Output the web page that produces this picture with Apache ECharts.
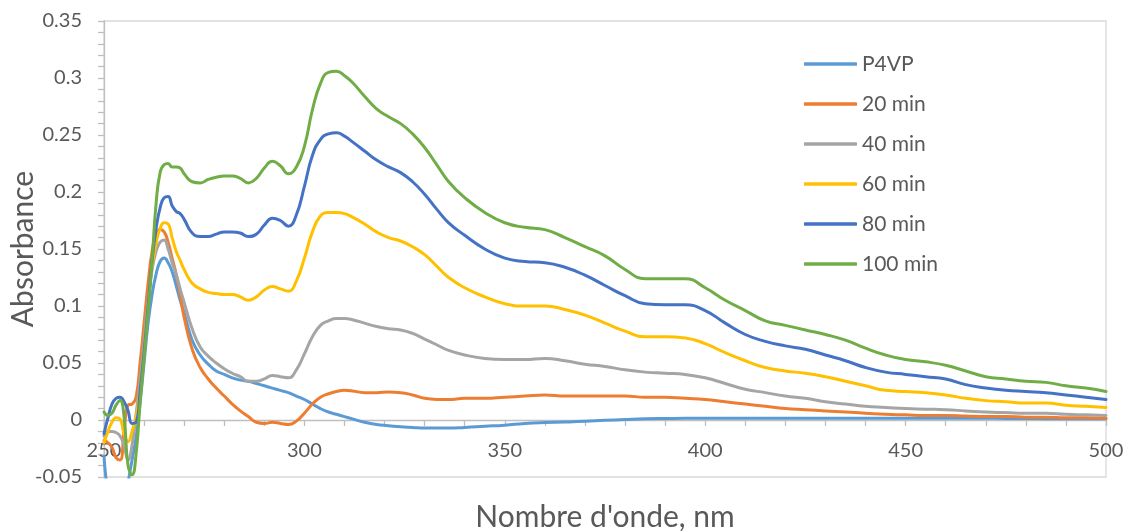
<!DOCTYPE html>
<html>
<head>
<meta charset="utf-8">
<script src="https://cdn.jsdelivr.net/npm/echarts@6/dist/echarts.min.js"></script>
<style>
html,body{margin:0;padding:0;background:#fff;}
#chart{width:1126px;height:531px;}
</style>
</head>
<body>
<div id="chart"></div>
<script>
const wavelengths = [250,251,252,253,254,255,256,257,258,259,260,261,262,263,264,265,266,267,268,269,270,272,274,276,278,280,282,284,286,288,290,292,294,296,298,300,302,304,306,308,310,312,315,318,321,324,327,330,333,336,340,345,350,355,360,365,370,375,380,385,390,395,400,405,410,415,420,425,430,435,440,445,450,455,460,465,470,475,480,485,490,495,500];

const seriesNames = ['P4VP','20 min','40 min','60 min','80 min','100 min'];

const p4vp = [-0.032,-0.065,-0.08,-0.085,-0.085,-0.075,-0.055,-0.035,-0.015,0.015,0.05,0.085,0.11,0.128,0.139,0.142,0.138,0.130,0.118,0.105,0.094,0.070,0.057,0.049,0.043,0.040,0.037,0.035,0.034,0.032,0.030,0.028,0.026,0.024,0.021,0.018,0.014,0.010,0.007,0.005,0.003,0.001,-0.002,-0.004,-0.005,-0.006,-0.0065,-0.007,-0.007,-0.007,-0.0065,-0.0055,-0.0045,-0.003,-0.0022,-0.0018,-0.0012,-0.0003,0.0004,0.001,0.0013,0.0015,0.0015,0.0015,0.0015,0.0015,0.0015,0.0015,0.0015,0.0015,0.0015,0.0015,0.0015,0.0015,0.0015,0.0015,0.0015,0.0014,0.0013,0.0012,0.0012,0.0011,0.001];

const min20 = [-0.018,-0.020,-0.024,-0.033,-0.035,-0.010,0.013,0.014,0.020,0.05,0.085,0.12,0.148,0.163,0.167,0.165,0.156,0.142,0.128,0.110,0.090,0.062,0.046,0.036,0.028,0.021,0.014,0.008,0.003,-0.002,-0.003,-0.002,-0.003,-0.004,-0.001,0.006,0.014,0.020,0.023,0.025,0.026,0.0255,0.024,0.024,0.0245,0.024,0.022,0.019,0.018,0.018,0.019,0.019,0.020,0.021,0.022,0.021,0.021,0.021,0.021,0.020,0.020,0.019,0.018,0.016,0.014,0.012,0.010,0.009,0.008,0.007,0.006,0.005,0.0045,0.004,0.004,0.0035,0.003,0.003,0.0025,0.0025,0.002,0.002,0.0015];

const min40 = [-0.014,-0.010,-0.010,-0.011,-0.014,-0.022,-0.035,-0.022,0.005,0.035,0.07,0.105,0.132,0.148,0.156,0.158,0.150,0.138,0.128,0.115,0.103,0.080,0.064,0.056,0.050,0.045,0.041,0.038,0.034,0.034,0.036,0.039,0.038,0.037,0.044,0.058,0.073,0.083,0.087,0.089,0.089,0.088,0.085,0.082,0.080,0.079,0.076,0.071,0.066,0.061,0.057,0.054,0.053,0.053,0.054,0.052,0.049,0.047,0.044,0.042,0.041,0.040,0.037,0.032,0.027,0.024,0.021,0.019,0.016,0.014,0.012,0.011,0.010,0.0095,0.009,0.008,0.007,0.0065,0.006,0.006,0.005,0.0045,0.004];

const min60 = [-0.020,-0.010,-0.002,0.002,0.001,-0.012,-0.019,-0.010,0.003,0.025,0.06,0.10,0.135,0.155,0.168,0.173,0.172,0.160,0.148,0.140,0.132,0.120,0.115,0.112,0.111,0.110,0.110,0.108,0.105,0.108,0.114,0.117,0.115,0.113,0.122,0.142,0.165,0.179,0.182,0.182,0.181,0.178,0.172,0.165,0.160,0.157,0.152,0.145,0.135,0.125,0.116,0.108,0.102,0.100,0.100,0.097,0.092,0.085,0.078,0.073,0.073,0.072,0.067,0.059,0.052,0.046,0.043,0.041,0.038,0.034,0.030,0.026,0.025,0.024,0.022,0.019,0.017,0.016,0.015,0.015,0.013,0.012,0.011];

const min80 = [-0.012,0.002,0.014,0.019,0.020,0.016,0.008,-0.003,-0.002,0.025,0.06,0.10,0.14,0.168,0.186,0.195,0.196,0.188,0.183,0.181,0.176,0.164,0.161,0.161,0.163,0.165,0.165,0.164,0.161,0.163,0.171,0.177,0.175,0.170,0.180,0.205,0.232,0.246,0.251,0.252,0.249,0.244,0.236,0.228,0.222,0.217,0.209,0.198,0.185,0.173,0.162,0.150,0.142,0.139,0.138,0.134,0.127,0.118,0.109,0.102,0.101,0.101,0.096,0.085,0.075,0.069,0.065,0.062,0.057,0.052,0.046,0.042,0.040,0.038,0.036,0.031,0.028,0.026,0.025,0.024,0.022,0.020,0.018];

const min100 = [0.007,0.004,0.006,0.013,0.017,0.003,-0.040,-0.048,-0.030,0.015,0.055,0.095,0.14,0.19,0.217,0.224,0.225,0.222,0.222,0.221,0.216,0.209,0.208,0.211,0.213,0.214,0.214,0.212,0.208,0.212,0.221,0.227,0.223,0.216,0.222,0.240,0.272,0.295,0.305,0.306,0.302,0.296,0.284,0.273,0.266,0.260,0.251,0.239,0.224,0.209,0.195,0.182,0.173,0.169,0.167,0.160,0.152,0.144,0.132,0.124,0.124,0.124,0.116,0.105,0.096,0.087,0.083,0.079,0.075,0.070,0.063,0.057,0.053,0.051,0.048,0.043,0.038,0.036,0.034,0.033,0.030,0.028,0.025];

const seriesValues = [p4vp, min20, min40, min60, min80, min100];
const seriesColors = ['#5B9BD5','#ED7D31','#A5A5A5','#FFC000','#4472C4','#70AD47'];

const yTickLabels = {'-0.05':'-0.05','0':'0','0.05':'0.05','0.1':'0.1','0.15':'0.15','0.2':'0.2','0.25':'0.25','0.3':'0.3','0.35':'0.35'};

const FONT = 'Lato';
const TXT = '#595959';

const Y_MIN = -0.05, Y_MAX = 0.35;
const GRID = { left: 104, right: 20, top: 21, bottom: 54 };
const plotH = 531 - GRID.top - GRID.bottom;
// shift the x axis up from the grid bottom to the y = 0 line
const xAxisOffset = -plotH * (0 - Y_MIN) / (Y_MAX - Y_MIN);

const chart = echarts.init(document.getElementById('chart'), null, {renderer:'canvas'});

const series = seriesNames.map((name, i) => ({
  name: name,
  type: 'line',
  data: wavelengths.map((w, j) => [w, seriesValues[i][j]]),
  smooth: true,
  symbol: 'none',
  clip: true,
  lineStyle: { width: 3, color: seriesColors[i], cap: 'round', join: 'round' },
  itemStyle: { color: seriesColors[i] },
  z: 2 + i
}));

chart.setOption({
  animation: false,
  backgroundColor: '#ffffff',
  grid: {
    left: GRID.left, right: GRID.right, top: GRID.top, bottom: GRID.bottom,
    containLabel: false,
    outerBoundsMode: 'none',
    show: true, borderColor: '#d9d9d9', borderWidth: 1.3
  },
  legend: {
    orient: 'vertical',
    left: 799, top: 48,
    itemWidth: 53, itemHeight: 3.5,
    itemGap: 18,
    icon: 'roundRect',
    textStyle: { fontFamily: FONT, fontSize: 21, color: TXT, lineHeight: 22, padding: [0,0,0,0] },
    data: seriesNames
  },
  xAxis: {
    type: 'value',
    position: 'bottom',
    offset: xAxisOffset,
    min: 250, max: 500, interval: 50,
    name: "Nombre d'onde, nm",
    nameLocation: 'middle',
    nameGap: 82,
    nameTextStyle: { fontFamily: FONT, fontSize: 30, color: TXT },
    axisLine: { show: true, onZero: false, lineStyle: { color: '#bfbfbf', width: 1.3 } },
    axisTick: { show: true, inside: false, length: 6, lineStyle: { color: '#bfbfbf', width: 1.3 } },
    minorTick: { show: true, splitNumber: 5, length: 6, lineStyle: { color: '#bfbfbf', width: 1.3 } },
    axisLabel: { fontFamily: FONT, fontSize: 20, color: TXT, margin: 21, showMinLabel: true, showMaxLabel: true },
    splitLine: { show: false },
    minorSplitLine: { show: false }
  },
  yAxis: {
    type: 'value',
    min: Y_MIN, max: Y_MAX, interval: 0.05,
    name: 'Absorbance',
    nameLocation: 'middle',
    nameRotate: 90,
    nameGap: 66,
    nameMoveOverlap: false,
    nameTextStyle: { fontFamily: FONT, fontSize: 30, color: TXT },
    axisLine: { show: true, onZero: false, lineStyle: { color: '#bfbfbf', width: 1.3 } },
    axisTick: { show: true, inside: false, length: 6, lineStyle: { color: '#bfbfbf', width: 1.3 } },
    minorTick: { show: true, splitNumber: 5, length: 6, lineStyle: { color: '#bfbfbf', width: 1.3 } },
    axisLabel: {
      fontFamily: FONT, fontSize: 20, color: TXT, margin: 22,
      formatter: v => { const k = String(+v.toFixed(2)); return yTickLabels[k] !== undefined ? yTickLabels[k] : k; }
    },
    splitLine: { show: false },
    minorSplitLine: { show: false }
  },
  series: series
});
</script>
</body>
</html>
